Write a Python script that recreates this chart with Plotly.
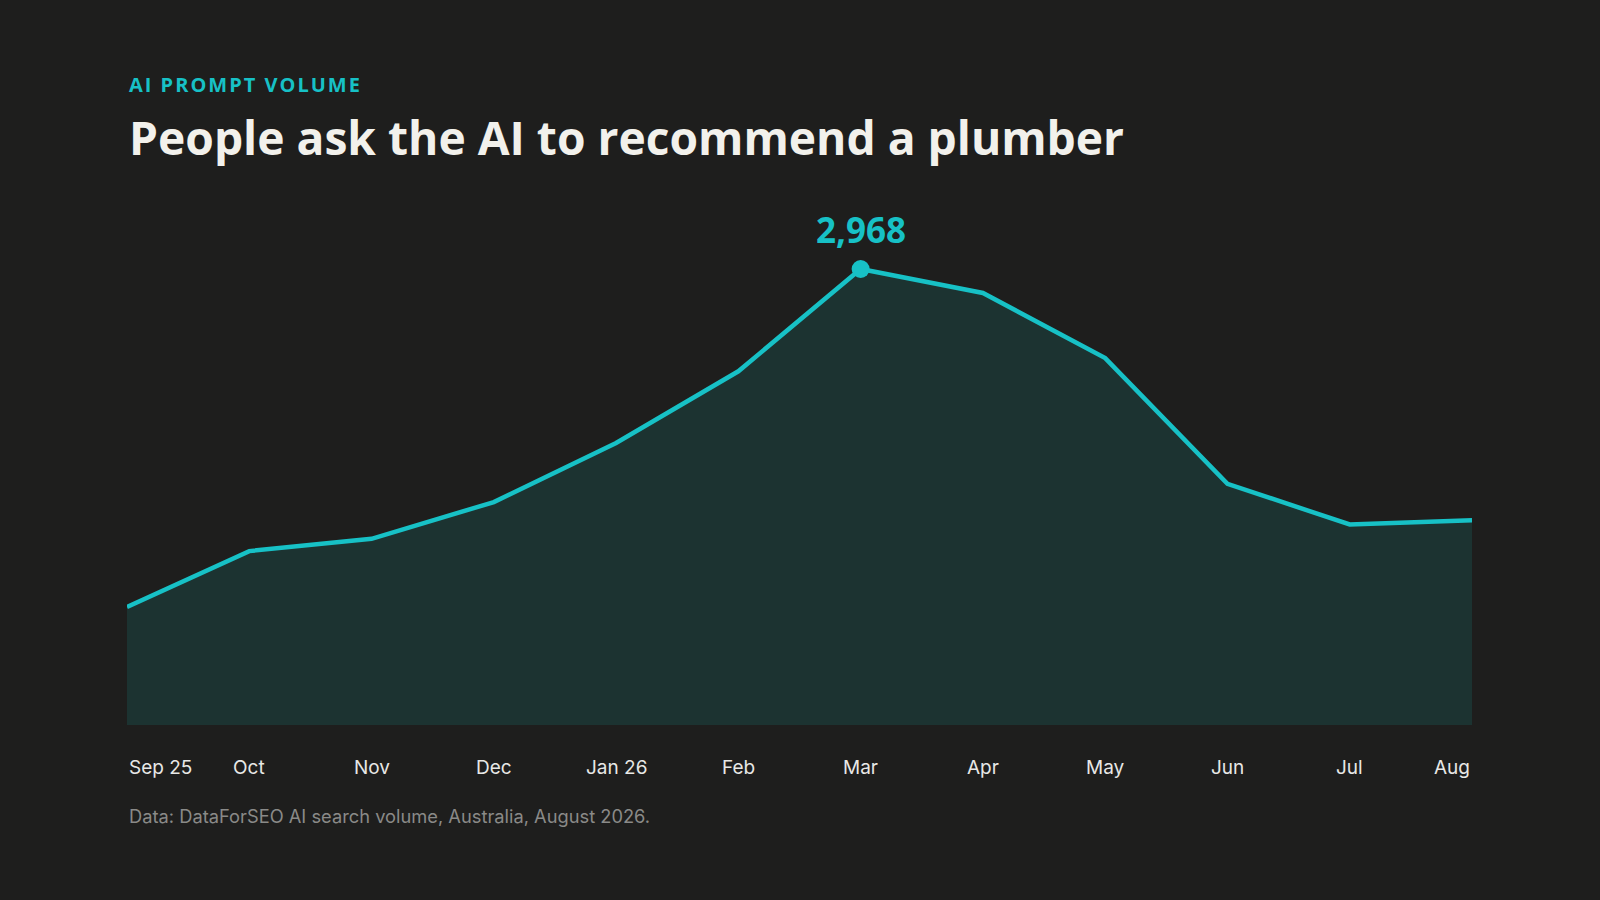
import plotly.graph_objects as go

# data
months = ["Sep 25", "Oct", "Nov", "Dec", "Jan 26", "Feb", "Mar", "Apr", "May", "Jun", "Jul", "Aug"]
volume = [768, 1132, 1212, 1451, 1835, 2302, 2968, 2812, 2388, 1570, 1305, 1332]
peak_month = "Mar"
peak_value = 2968

title = "People ask the AI to recommend a plumber"
kicker = "AI PROMPT VOLUME"
source = "Data: DataForSEO AI search volume, Australia, August 2026."

bg = "#1e1e1d"
teal = "#17c1c6"
fill = "#1c3331"

fig = go.Figure()
fig.add_trace(go.Scatter(x=months, y=volume, mode="lines", fill="tozeroy",
                         fillcolor=fill, line=dict(color=teal, width=4.5),
                         hoverinfo="x+y"))
fig.add_trace(go.Scatter(x=[peak_month], y=[peak_value], mode="markers",
                         marker=dict(color=teal, size=18), hoverinfo="skip"))

fig.add_annotation(x=peak_month, y=peak_value, text="<b>" + f"{peak_value:,}" + "</b>",
                   showarrow=False, yanchor="bottom", yshift=14,
                   font=dict(family="Open Sans", size=35, color=teal))

# month labels (first left-aligned, last right-aligned)
for i, m in enumerate(months):
    anchor = "left" if i == 0 else ("right" if i == len(months) - 1 else "center")
    fig.add_annotation(x=m, y=0, yref="paper", text=m, showarrow=False,
                       xanchor=anchor, yanchor="middle", yshift=-42,
                       font=dict(family="Inter", size=19, color="#e8e8e6"))

fig.add_annotation(x=0, xref="paper", y=0, yref="paper", text=source, showarrow=False,
                   xanchor="left", yanchor="middle", yshift=-91,
                   font=dict(family="Inter", size=18.3, color="#8a8a88"))
fig.add_annotation(x=0, xref="paper", y=1, yref="paper", text="<b>" + title + "</b>",
                   showarrow=False, xanchor="left", yanchor="middle", yshift=63,
                   font=dict(family="Open Sans", size=46.2, color="#f2f1ec"))
# letter-spaced kicker (hair spaces between letters)
fig.add_annotation(x=0, xref="paper", y=1, yref="paper",
                   text="<b>" + "\u200a".join(kicker) + "</b>",
                   showarrow=False, xanchor="left", yanchor="middle", yshift=116,
                   font=dict(family="Open Sans", size=20, color=teal))

fig.update_layout(
    width=1600, height=900,
    paper_bgcolor=bg, plot_bgcolor=bg,
    margin=dict(l=127, r=128, t=200, b=175),
    showlegend=False,
    xaxis=dict(showgrid=False, zeroline=False, showticklabels=False, showline=False,
               range=[0, len(months) - 1]),
    yaxis=dict(showgrid=False, zeroline=False, showticklabels=False, showline=False,
               range=[0, 3417]),
)

fig.write_html("out.html", config={"displayModeBar": False},
               post_script="document.body.style.margin='0';")
